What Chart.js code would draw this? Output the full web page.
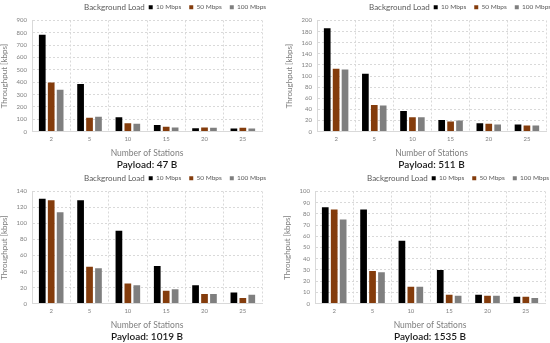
<!DOCTYPE html>
<html>
<head>
<meta charset="utf-8">
<script src="https://cdn.jsdelivr.net/npm/chart.js@4"></script>
<style>
  html, body { margin: 0; padding: 0; background: #fff; }
  #wrap { position: relative; width: 550px; height: 343px; }
  .cell { position: absolute; width: 275px; }
</style>
</head>
<body>
<div id="wrap">
  <div class="cell" style="left:0;top:0;height:171px"><canvas id="c47"></canvas></div>
  <div class="cell" style="left:275px;top:0;height:171px"><canvas id="c511"></canvas></div>
  <div class="cell" style="left:0;top:171px;height:172px"><canvas id="c1019"></canvas></div>
  <div class="cell" style="left:275px;top:171px;height:172px"><canvas id="c1535"></canvas></div>
</div>
<script>
// Data
const stations = ['2', '5', '10', '15', '20', '25'];
const loads = ['10 Mbps', '50 Mbps', '100 Mbps'];

const p47_10 = [784, 386, 116, 54, 28, 26];
const p47_50 = [398, 113, 67, 39, 33, 31];
const p47_100 = [339, 121, 64, 33, 31, 26];

const p511_10 = [186, 104, 37, 21, 15, 13];
const p511_50 = [113, 48, 26, 18, 14, 11];
const p511_100 = [112, 47, 26, 20, 13, 11];

const p1019_10 = [131, 129, 91, 47, 23, 14];
const p1019_50 = [129, 46, 25, 16, 12, 7];
const p1019_100 = [114, 44, 23, 18, 12, 11];

const p1535_10 = [86, 84, 56, 30, 8, 6];
const p1535_50 = [84, 29, 15, 8, 7, 6];
const p1535_100 = [75, 28, 15, 7, 7, 5];

const colors = ['#000000', '#843c0c', '#7f7f7f'];
const FONT = 'Lato, "Open Sans", sans-serif';
const LEGEND_FONT = '8px ' + FONT;

Chart.defaults.font.family = FONT;
Chart.defaults.color = '#7f7f7f';

// "Background Load" in front of the legend items; payload title centred under the plot
const bgLoadLabel = {
    id: 'bgLoadLabel',
    afterLayout(chart) {
        const lg = chart.legend;
        const area = chart.chartArea;
        if (lg) {
            const ctx = chart.ctx;
            ctx.save();
            ctx.font = LEGEND_FONT;
            const tw = ctx.measureText('Background Load').width;
            ctx.restore();
            const start = area.left + 52;
            const newLeft = start + tw + 4 - lg.options.labels.padding;
            lg._bgStart = start;
            lg.right += newLeft - lg.left;
            lg.left = newLeft;
        }
        const tb = chart.titleBlock;
        if (tb) {
            tb.left = area.left;
            tb.right = area.right;
        }
    },
    afterDraw(chart) {
        const lg = chart.legend;
        if (!lg || lg._bgStart === undefined) return;
        const hb = lg.legendHitBoxes[0];
        const ctx = chart.ctx;
        ctx.save();
        ctx.font = LEGEND_FONT;
        ctx.fillStyle = '#595959';
        ctx.textBaseline = 'middle';
        ctx.fillText('Background Load', lg._bgStart, hb.top + hb.height / 2);
        ctx.restore();
    }
};

function makeChart(id, payload, s10, s50, s100, yMax, yStep, padLeft, padRight) {
    const series = [s10, s50, s100];
    return new Chart(document.getElementById(id), {
        type: 'bar',
        data: {
            labels: stations,
            datasets: loads.map((name, i) => ({
                label: name,
                data: series[i],
                backgroundColor: colors[i],
                borderWidth: 0,
                categoryPercentage: 0.7,
                barPercentage: 0.75
            }))
        },
        options: {
            responsive: true,
            maintainAspectRatio: false,
            animation: false,
            layout: { padding: { left: padLeft, right: padRight, top: -4, bottom: 0 } },
            plugins: {
                legend: {
                    position: 'top',
                    align: 'start',
                    labels: {
                        boxWidth: 4,
                        boxHeight: 4,
                        padding: 8,
                        font: { size: 6.5 },
                        color: '#595959'
                    }
                },
                title: {
                    display: true,
                    position: 'bottom',
                    text: 'Payload: ' + payload,
                    color: '#1a1a1a',
                    font: { size: 10, weight: '600' },
                    padding: { top: 1, bottom: 0 }
                },
                tooltip: { enabled: false }
            },
            scales: {
                x: {
                    grid: { color: '#d9d9d9', drawTicks: false },
                    border: { color: '#d9d9d9', dash: [2, 2] },
                    ticks: { font: { size: 6 }, color: '#7f7f7f', padding: 4 },
                    title: {
                        display: true,
                        text: 'Number of Stations',
                        font: { size: 8.5 },
                        color: '#7f7f7f',
                        padding: { top: 1, bottom: 0 }
                    }
                },
                y: {
                    min: 0,
                    max: yMax,
                    grid: { color: '#d9d9d9', drawTicks: false },
                    border: { color: '#d9d9d9', dash: [2, 2] },
                    ticks: { stepSize: yStep, font: { size: 6 }, color: '#7f7f7f', padding: 5 },
                    title: {
                        display: true,
                        text: 'Throughput [kbps]',
                        font: { size: 8 },
                        color: '#7f7f7f',
                        padding: { top: 0, bottom: 2 }
                    }
                }
            }
        },
        plugins: [bgLoadLabel]
    });
}

makeChart('c47', '47 B', p47_10, p47_50, p47_100, 900, 100, 0, 13);
makeChart('c511', '511 B', p511_10, p511_50, p511_100, 200, 20, 10, 4);
makeChart('c1019', '1019 B', p1019_10, p1019_50, p1019_100, 140, 20, 0, 13);
makeChart('c1535', '1535 B', p1535_10, p1535_50, p1535_100, 100, 10, 8, 5);
</script>
</body>
</html>
